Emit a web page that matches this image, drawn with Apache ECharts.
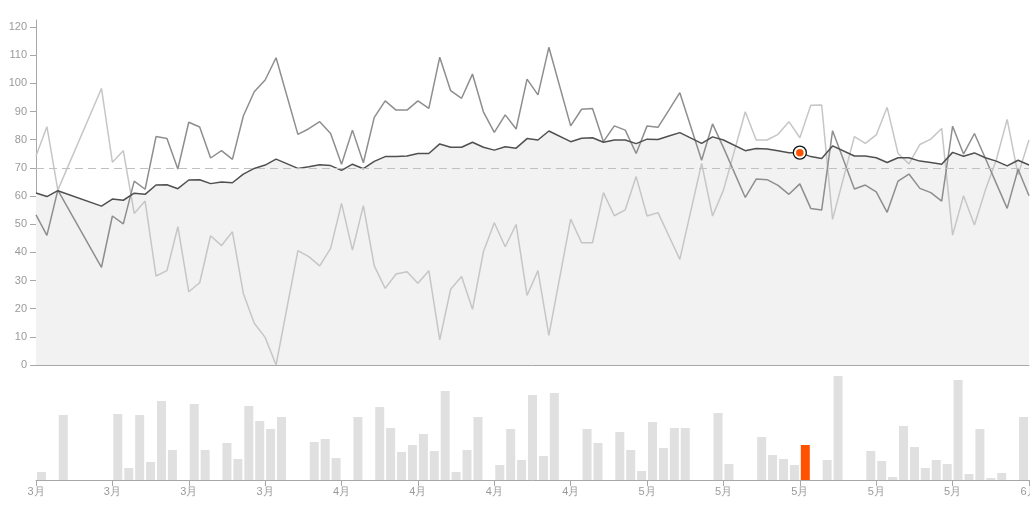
<!DOCTYPE html>
<html>
<head>
<meta charset="utf-8">
<script src="https://cdn.jsdelivr.net/npm/echarts@6/dist/echarts.min.js"></script>
<style>
  html, body { margin: 0; padding: 0; background: #fff; }
  #chart { width: 1030px; height: 519px; }
</style>
</head>
<body>
<div id="chart"></div>
<script>
// Daily categories (March 8 – June 7)
const days = [
  '3/8','3/9','3/10','3/11','3/12','3/13','3/14','3/15','3/16','3/17','3/18','3/19','3/20','3/21','3/22','3/23','3/24','3/25','3/26','3/27','3/28','3/29','3/30','3/31',
  '4/1','4/2','4/3','4/4','4/5','4/6','4/7','4/8','4/9','4/10','4/11','4/12','4/13','4/14','4/15','4/16','4/17','4/18','4/19','4/20','4/21','4/22','4/23','4/24','4/25','4/26','4/27','4/28','4/29','4/30',
  '5/1','5/2','5/3','5/4','5/5','5/6','5/7','5/8','5/9','5/10','5/11','5/12','5/13','5/14','5/15','5/16','5/17','5/18','5/19','5/20','5/21','5/22','5/23','5/24','5/25','5/26','5/27','5/28','5/29','5/30','5/31',
  '6/1','6/2','6/3','6/4','6/5','6/6','6/7'
];

// Dark average line (with area)
const avgValues = [
  61.1,59.8,61.9,null,null,null,56.4,58.9,58.5,61.0,
  60.6,63.9,64.0,62.6,65.7,65.8,64.4,65.0,64.7,67.8,
  69.8,71.0,73.1,null,69.8,70.4,71.1,70.8,69.1,71.3,
  69.7,72.3,74.0,74.0,74.2,75.1,75.1,78.5,77.3,77.3,
  79.1,77.3,76.3,77.5,77.0,80.4,79.9,83.1,null,79.3,
  80.5,80.7,79.1,79.9,79.9,78.6,80.2,80.1,81.3,82.5,
  null,78.7,81.0,79.9,null,76.1,76.9,76.7,76.1,75.4,
  75.4,74.0,73.3,77.8,null,74.2,74.2,73.6,71.9,73.6,
  73.6,72.4,71.9,71.3,75.5,74.1,75.3,73.6,72.4,70.7,
  72.7,71.0
];

// Medium grey line
const midValues = [
  53.3,46.0,62.1,null,null,null,34.7,52.9,50.1,65.3,
  62.4,81.1,80.4,69.6,86.2,84.5,73.5,76.1,73.0,88.4,
  97.0,101.2,109.1,null,81.9,83.9,86.4,82.2,71.3,83.4,
  71.8,87.9,93.8,90.5,90.5,93.8,91.1,109.3,97.4,94.7,
  103.3,89.9,82.6,88.8,83.8,101.5,95.9,112.8,null,84.9,
  90.8,91.1,79.3,84.9,83.4,75.1,84.9,84.4,90.5,96.7,
  null,72.7,85.6,77.2,null,59.5,66.0,65.8,63.8,60.6,
  64.3,55.6,55.0,83.2,null,62.5,63.9,61.5,54.2,65.3,
  67.8,62.7,61.2,58.2,84.8,74.9,82.2,73.4,64.5,55.6,
  69.5,60.1
];

// Light grey line
const lightValues = [
  74.2,84.6,62.1,null,null,null,98.2,72.0,76.1,53.8,
  58.2,31.6,33.5,49.1,26.0,29.2,45.9,42.4,47.3,25.4,
  14.8,9.8,0,null,40.6,38.5,35.2,41.4,57.4,40.8,
  56.6,35.2,27.2,32.3,33.1,29.0,33.5,8.9,26.9,31.4,
  19.8,40.2,50.5,42.0,49.9,24.7,33.5,10.5,null,51.8,
  43.4,43.4,61.2,53.0,55.1,66.9,52.9,54.1,45.8,37.5,
  null,71.6,52.9,62.1,null,89.9,79.9,79.9,81.9,86.4,
  80.7,92.2,92.3,51.7,null,81.1,78.7,81.7,91.5,75.1,
  71.4,78.3,80.2,84.0,46.1,60.1,49.7,62.1,72.8,87.2,
  67.5,79.9
];

// Daily bars (one per day band, March 8 – June 6)
const barValues = [
  8,0,65,0,0,0,0,66,12,65,
  18,79,30,0,76,30,0,37,21,74,
  59,51,63,0,0,38,41,22,0,63,
  0,73,52,28,35,46,29,89,8,30,
  63,0,15,51,20,85,24,87,0,0,
  51,37,0,48,30,9,58,32,52,52,
  0,0,67,16,0,0,43,25,21,15,
  35,0,20,104,0,0,29,19,3,54,
  33,12,20,16,100,6,51,2,7,0,
  63
];

const highlightIndex = 70;
const referenceLine = 70;
const yTicks = { min: 0, max: 122.5, interval: 10 };

const orange = '#ff5200';
const axisColor = '#a8a8a8';
const labelColor = '#9a9a9a';
const fontFamily = 'Liberation Sans, Arial, Helvetica, sans-serif';

const barDays = days.slice(0, barValues.length);
const barData = barValues.map((v, i) => i === highlightIndex
  ? { value: v, itemStyle: { color: orange } }
  : v);

const chart = echarts.init(document.getElementById('chart'), null, { renderer: 'canvas' });
chart.setOption({
  animation: false,
  backgroundColor: '#fff',
  grid: [
    { left: 36, right: 1, top: 20, bottom: 154, containLabel: false, outerBoundsMode: 'none' },
    { left: 36, right: 1, top: 370, bottom: 39, containLabel: false, outerBoundsMode: 'none' }
  ],
  xAxis: [
    {
      type: 'category', gridIndex: 0, data: days, boundaryGap: false,
      axisLine: { lineStyle: { color: axisColor, width: 1 } },
      axisTick: { show: false }, axisLabel: { show: false }, splitLine: { show: false }
    },
    {
      // band axis for the bars (hidden)
      type: 'category', gridIndex: 1, data: barDays, boundaryGap: true,
      axisLine: { show: false }, axisTick: { show: false }, axisLabel: { show: false },
      splitLine: { show: false }
    },
    {
      // day axis with weekly ticks and month labels
      type: 'category', gridIndex: 1, data: days, boundaryGap: false, position: 'bottom',
      axisLine: { show: true, lineStyle: { color: axisColor, width: 1 } },
      axisTick: { show: true, interval: 6, length: 6, lineStyle: { color: axisColor } },
      axisLabel: {
        interval: 6, color: labelColor, fontSize: 11, fontFamily: fontFamily, margin: 6,
        formatter: v => v.split('/')[0] + '月'
      },
      splitLine: { show: false }
    }
  ],
  yAxis: [
    {
      type: 'value', gridIndex: 0, min: yTicks.min, max: yTicks.max, interval: yTicks.interval,
      axisLine: { show: true, lineStyle: { color: axisColor, width: 1 } },
      axisTick: { show: true, length: 6, lineStyle: { color: axisColor } },
      axisLabel: { color: labelColor, fontSize: 11, fontFamily: fontFamily, margin: 9, showMaxLabel: false },
      splitLine: { show: false }
    },
    {
      type: 'value', gridIndex: 1, min: 0, max: 110, show: false, splitLine: { show: false }
    }
  ],
  series: [
    {
      name: 'area', type: 'line', xAxisIndex: 0, yAxisIndex: 0, data: avgValues,
      connectNulls: true, symbol: 'none', lineStyle: { width: 0, color: '#f2f2f2' },
      areaStyle: { color: '#f2f2f2', opacity: 1 }, z: 1, silent: true,
      markLine: {
        silent: true, symbol: 'none', label: { show: false },
        lineStyle: { color: '#c0c0c0', type: [8, 5], width: 1 },
        data: [{ yAxis: referenceLine }]
      }
    },
    {
      name: 'light', type: 'line', xAxisIndex: 0, yAxisIndex: 0, data: lightValues,
      connectNulls: true, symbol: 'none', lineStyle: { width: 1.5, color: '#c6c6c6' }, z: 2
    },
    {
      name: 'mid', type: 'line', xAxisIndex: 0, yAxisIndex: 0, data: midValues,
      connectNulls: true, symbol: 'none', lineStyle: { width: 1.5, color: '#8e8e8e' }, z: 3
    },
    {
      name: 'avg', type: 'line', xAxisIndex: 0, yAxisIndex: 0, data: avgValues,
      connectNulls: true, symbol: 'none', lineStyle: { width: 1.5, color: '#505050' }, z: 4
    },
    {
      name: 'markerRing', type: 'scatter', xAxisIndex: 0, yAxisIndex: 0,
      data: [[days[highlightIndex], avgValues[highlightIndex]]],
      symbol: 'circle', symbolSize: 13,
      itemStyle: { color: '#fff', borderColor: '#111', borderWidth: 1.3, opacity: 1 }, z: 5, silent: true
    },
    {
      name: 'markerDot', type: 'scatter', xAxisIndex: 0, yAxisIndex: 0,
      data: [[days[highlightIndex], avgValues[highlightIndex]]],
      symbol: 'circle', symbolSize: 7.5,
      itemStyle: { color: orange, opacity: 1 }, z: 6, silent: true
    },
    {
      name: 'bars', type: 'bar', xAxisIndex: 1, yAxisIndex: 1, data: barData,
      barWidth: 9, itemStyle: { color: '#e0e0e0' }, silent: true
    }
  ]
});
</script>
</body>
</html>
